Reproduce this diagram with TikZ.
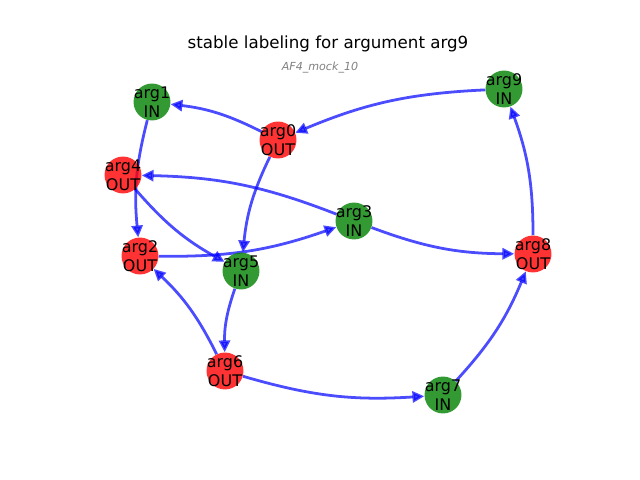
\documentclass[tikz,border=0pt]{standalone}
\usepackage{fontspec}
\setmainfont{DejaVu Sans}
\usetikzlibrary{arrows.meta,backgrounds}
\definecolor{ingreen}{RGB}{0,128,0}
\definecolor{outred}{RGB}{255,0,0}
\definecolor{attblue}{RGB}{0,0,255}
\begin{document}
\begin{tikzpicture}[x=0.72pt,y=0.72pt,arg/.style={circle,minimum size=26.6pt,inner sep=0pt,fill opacity=0.8},argin/.style={arg,fill=ingreen},argout/.style={arg,fill=outred},lab/.style={align=center,inner sep=0pt,font=\fontsize{11.5}{13.7}\selectfont},att/.style={-{Triangle[length=8.5pt,width=8pt]},line width=2pt,draw=attblue,opacity=0.7,bend right=10}]
\useasboundingbox (0,0) rectangle (640,480);
\node[font=\fontsize{12}{14}\selectfont](title) at (328,436){stable labeling for argument arg9};
\node[font=\fontsize{8}{9}\selectfont\itshape,text=gray](sub) at (320,412){AF4\_mock\_10};
% arguments
\node[argout,label={[lab]center:arg0\\OUT}](a0) at (278,340){};
\node[argin,label={[lab]center:arg1\\IN}](a1) at (152,378){};
\node[argout,label={[lab]center:arg2\\OUT}](a2) at (140,224){};
\node[argin,label={[lab]center:arg3\\IN}](a3) at (354,259){};
\node[argout,label={[lab]center:arg4\\OUT}](a4) at (123,305){};
\node[argin,label={[lab]center:arg5\\IN}](a5) at (241,209){};
\node[argout,label={[lab]center:arg6\\OUT}](a6) at (225,109){};
\node[argin,label={[lab]center:arg7\\IN}](a7) at (443,85){};
\node[argout,label={[lab]center:arg8\\OUT}](a8) at (533,226){};
\node[argin,label={[lab]center:arg9\\IN}](a9) at (504,391){};
% attacks
\begin{scope}[on background layer]
\draw[att](a0) to (a1);\draw[att](a9) to (a0);\draw[att](a1) to (a2);
\draw[att](a4) to (a5);\draw[att](a3) to (a4);\draw[att](a0) to (a5);
\draw[att](a2) to (a3);\draw[att](a3) to (a8);\draw[att](a8) to (a9);
\draw[att](a7) to (a8);\draw[att](a6) to (a7);\draw[att](a5) to (a6);
\draw[att](a6) to (a2);
\end{scope}
\end{tikzpicture}
\end{document}
